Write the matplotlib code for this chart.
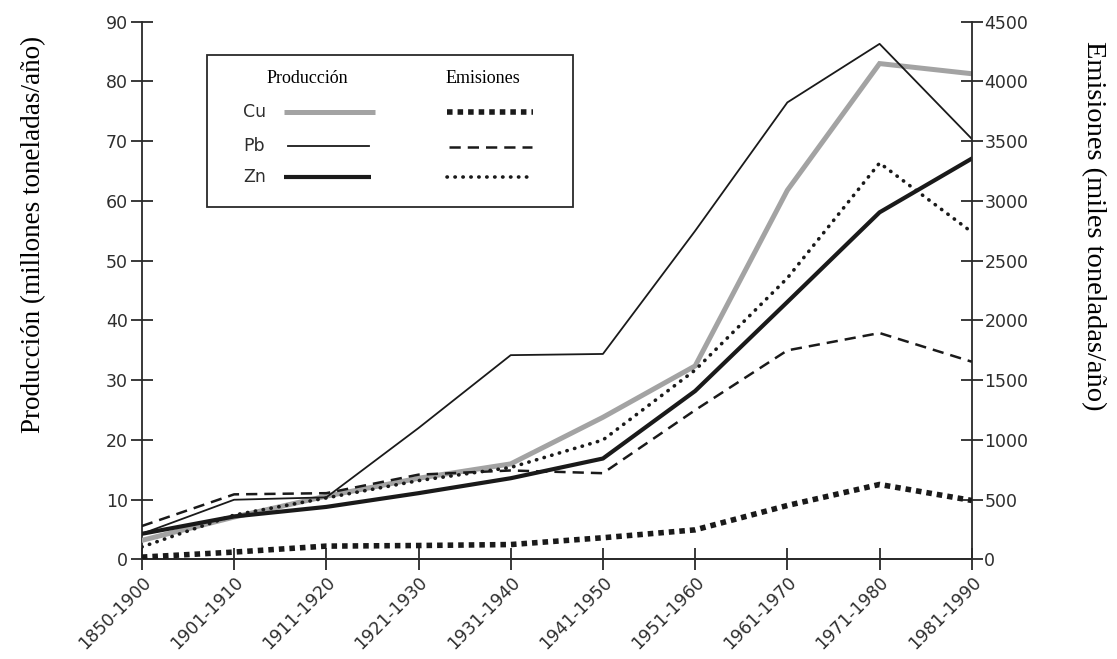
import matplotlib.pyplot as plt
import numpy as np
from matplotlib.patches import Rectangle

# datos
periodos = ['1850-1900', '1901-1910', '1911-1920', '1921-1930', '1931-1940',
            '1941-1950', '1951-1960', '1961-1970', '1971-1980', '1981-1990']

# produccion (millones toneladas/año)
prod_cu = [3.2, 7.1, 10.6, 13.6, 16.0, 23.8, 32.4, 61.8, 83.0, 81.3]
prod_pb = [4.3, 10.0, 10.4, 22.0, 34.2, 34.4, 55.0, 76.5, 86.3, 70.4]
prod_zn = [4.3, 7.2, 8.8, 11.1, 13.6, 16.9, 28.2, 43.1, 58.1, 67.1]

# emisiones (miles toneladas/año)
emis_cu = [20, 62, 112, 117, 125, 182, 248, 452, 628, 494]
emis_pb = [280, 545, 555, 710, 745, 722, 1250, 1750, 1895, 1655]
emis_zn = [105, 372, 515, 660, 770, 1000, 1585, 2355, 3318, 2740]

plt.rcParams['font.family'] = ['DejaVu Sans']

fig = plt.figure(figsize=(11.17, 6.59), dpi=100)
ax = fig.add_axes([0.127, 0.151, 0.743, 0.816])
ax2 = ax.twinx()

x = np.arange(len(periodos))

ax.plot(x, prod_cu, color='#a3a3a3', lw=3.6, solid_joinstyle='miter', zorder=3)
ax.plot(x, prod_pb, color='#1a1a1a', lw=1.3, zorder=3)
ax.plot(x, prod_zn, color='#1a1a1a', lw=3.0, zorder=3)

ax2.plot(x, emis_cu, color='#1a1a1a', lw=4.0, dashes=(1.0, 0.9), zorder=3)
ax2.plot(x, emis_pb, color='#1a1a1a', lw=1.8, dashes=(4.5, 2.8), zorder=3)
ax2.plot(x, emis_zn, color='#1a1a1a', lw=2.6, dashes=(0.1, 2.1),
         dash_capstyle='round', zorder=3)

ax.set_xlim(0, len(periodos) - 1)
ax.set_ylim(0, 90)
ax2.set_ylim(0, 4500)
ax.set_yticks(np.arange(0, 91, 10))
ax2.set_yticks(np.arange(0, 4501, 500))
ax.set_xticks(x)
ax.set_xticklabels(periodos, rotation=45, ha='right', rotation_mode='anchor')

for a in (ax, ax2):
    a.spines['top'].set_visible(False)
    for s in a.spines.values():
        s.set_linewidth(1.3)
        s.set_color('#2a2a2a')
    a.tick_params(direction='inout', length=16, width=1.3, color='#2a2a2a',
                  labelsize=12.5, labelcolor='#2e2e2e')
ax.spines['right'].set_visible(False)
ax2.spines['left'].set_visible(False)
ax.tick_params(axis='y', pad=2)
ax.tick_params(axis='x', pad=2)
ax2.tick_params(axis='y', pad=1)

ax.set_ylabel('Producción (millones toneladas/año)', family='Liberation Serif',
              fontsize=19.5, va='center', ha='center')
ax.yaxis.set_label_coords(-0.131, 0.605)
ax2.set_ylabel('Emisiones (miles toneladas/año)', family='Liberation Serif',
               fontsize=20.5, rotation=-90, va='center', ha='center')
ax2.yaxis.set_label_coords(1.146, 0.62)

# leyenda dibujada a mano
def fx(px):
    return (px - 142) / 830.0


def fy(py):
    return (559 - py) / 537.0


tr = ax.transAxes
ax.add_patch(Rectangle((fx(207), fy(207)), fx(573) - fx(207), fy(55) - fy(207),
                       transform=tr, fill=True, facecolor='white',
                       edgecolor='#2a2a2a', lw=1.3, zorder=5))
ax.text(fx(307), fy(79), 'Producción', transform=tr, ha='center', va='center',
        family='Liberation Serif', fontsize=13, zorder=6)
ax.text(fx(483), fy(79), 'Emisiones', transform=tr, ha='center', va='center',
        family='Liberation Serif', fontsize=13, zorder=6)

filas = [('Cu', 112), ('Pb', 146), ('Zn', 177)]
for nombre, py in filas:
    ax.text(fx(243), fy(py), nombre, transform=tr, ha='left', va='center',
            fontsize=12.5, color='#2e2e2e', zorder=6)

ax.plot([fx(284), fx(375)], [fy(112), fy(112)], transform=tr, color='#a3a3a3',
        lw=3.6, zorder=6, solid_capstyle='butt')
ax.plot([fx(288), fx(369)], [fy(146), fy(146)], transform=tr, color='#1a1a1a',
        lw=1.3, zorder=6)
ax.plot([fx(284), fx(371)], [fy(177), fy(177)], transform=tr, color='#1a1a1a',
        lw=3.0, zorder=6, solid_capstyle='butt')
ax.plot([fx(447), fx(533)], [fy(112), fy(112)], transform=tr, color='#1a1a1a',
        lw=4.0, dashes=(1.0, 0.9), zorder=6)
ax.plot([fx(449), fx(532)], [fy(147), fy(147)], transform=tr, color='#1a1a1a',
        lw=1.8, dashes=(4.5, 2.8), zorder=6)
ax.plot([fx(447), fx(530)], [fy(177), fy(177)], transform=tr, color='#1a1a1a',
        lw=2.6, dashes=(0.1, 2.1), dash_capstyle='round', zorder=6)

plt.savefig('out.png', dpi=100)
